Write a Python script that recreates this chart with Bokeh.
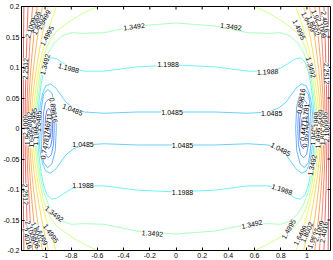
import numpy as np
from bokeh.plotting import figure
from bokeh.models import Range1d, FixedTicker, ColumnDataSource
from bokeh.embed import file_html
from bokeh.resources import INLINE
from bokeh.core.properties import value

# ---- contour levels ----
levels = [0.44711, 0.59746, 0.74781, 0.89816, 1.0485, 1.1988, 1.3492,
          1.4995, 1.6499, 1.8002, 1.9506, 2.1009, 2.2512, 2.4016, 2.5519]
level_colors = ["#0000c8", "#0028ff", "#0058ff", "#0088ff", "#00b4ff", "#10e8f0",
                "#70ff90", "#b0ff48", "#f0f000", "#ffc000", "#ff9000", "#ff6000",
                "#ff3000", "#f00000", "#b00000"]

# ---- contour lines (upper-left quarter; figure is symmetric) ----
loop_044711_x = [-0.987, -0.985, -0.979, -0.971, -0.963, -0.957, -0.955]
loop_044711_y = [0.0, 0.009, 0.016, 0.018, 0.016, 0.009, 0.0]
loop_059746_x = [-1.0, -0.997, -0.987, -0.972, -0.957, -0.946, -0.943]
loop_059746_y = [0.0, 0.017, 0.029, 0.033, 0.029, 0.017, 0.0]
loop_074781_x = [-1.016, -1.012, -0.998, -0.975, -0.952, -0.935, -0.93]
loop_074781_y = [0.0, 0.025, 0.042, 0.048, 0.043, 0.026, 0.0]
loop_089816_x = [-1.032, -1.028, -1.012, -0.98, -0.948, -0.922, -0.914]
loop_089816_y = [0.0, 0.033, 0.056, 0.064, 0.058, 0.036, 0.0]

c_10485_x = [0.0, -0.3, -0.55, -0.7, -0.78, -0.84, -0.88, -0.92, -0.96, -0.995, -1.02, -1.037, -1.045, -1.048]
c_10485_y = [0.027, 0.027, 0.025, 0.027, 0.033, 0.043, 0.055, 0.067, 0.073, 0.07, 0.057, 0.038, 0.019, 0.0]
c_11988_x = [0.0, -0.3, -0.55, -0.7, -0.8, -0.86, -0.91, -0.95, -0.985, -1.01, -1.03, -1.045, -1.055, -1.06]
c_11988_y = [0.104, 0.101, 0.094, 0.094, 0.099, 0.107, 0.114, 0.116, 0.109, 0.094, 0.072, 0.047, 0.022, 0.0]
c_13492_x = [0.0, -0.3, -0.55, -0.7, -0.8, -0.87, -0.93, -0.975, -1.01, -1.035, -1.053, -1.065, -1.072]
c_13492_y = [0.173, 0.168, 0.157, 0.156, 0.157, 0.152, 0.14, 0.124, 0.104, 0.08, 0.052, 0.025, 0.0]

w_14995_x = [-0.6, -0.7, -0.78, -0.85, -0.91, -0.955, -0.99, -1.015, -1.035, -1.053, -1.068, -1.079, -1.084]
w_14995_y = [0.2, 0.19, 0.18, 0.17, 0.16, 0.148, 0.132, 0.115, 0.095, 0.07, 0.045, 0.02, 0.0]
wall_y = [0.2, 0.175, 0.15, 0.125, 0.1, 0.075, 0.05, 0.025, 0.0]
w_16499_x = [-0.915, -0.955, -0.99, -1.021, -1.046, -1.065, -1.08, -1.091, -1.096]
w_18002_x = [-0.975, -1.001, -1.025, -1.046, -1.065, -1.082, -1.095, -1.104, -1.108]
w_19506_x = [-1.02, -1.04, -1.058, -1.074, -1.088, -1.1, -1.109, -1.116, -1.12]
w_21009_x = [-1.06, -1.074, -1.087, -1.098, -1.108, -1.116, -1.123, -1.128, -1.13]
w_22512_x = [-1.095, -1.105, -1.113, -1.12, -1.126, -1.132, -1.136, -1.139, -1.141]
w_24016_x = [-1.13, -1.134, -1.138, -1.142, -1.146, -1.148, -1.151, -1.152, -1.153]
w_25519_x = [-1.162, -1.163, -1.164, -1.165, -1.165, -1.166, -1.166, -1.167, -1.167]

# ---- inline contour labels: text, x, y, angle (deg) ----
lab_text = ["1.3492", "1.3492", "1.1988", "1.1988", "1.1988", "1.0485", "1.0485", "1.0485",
            "1.0485", "1.0485", "1.0485", "1.1988", "1.1988", "1.1988", "1.3492", "1.3492",
            "1.3492", "1.4995", "1.4995", "1.4995", "1.4995", "1.3492", "1.3492", "1.3492",
            "2.2512", "2.2512", "2.2512",
            "1.6499", "1.8002", "1.9506", "2.1009",
            "0.89816", "0.44711", "0.59746", "0.74781", "1.0485", "1.1988", "1.4995", "1.6499", "1.8002", "1.9506", "2.1009",
            "1.6499", "1.8002", "1.9506", "2.1009", "2.4016",
            "1.6499", "1.8002", "1.9506", "2.1009", "2.4016",
            "0.89816", "0.74781", "0.59746", "0.44711", "1.0485", "1.1988", "1.4995", "1.6499", "1.8002", "1.9506", "2.1009",
            "1.6499", "1.8002", "1.9506", "2.1009", "2.4016"]
lab_x = [-0.32, 0.42, -0.82, -0.06, 0.70, -0.79, -0.03, 0.73,
         -0.71, 0.05, 0.80, -0.71, 0.05, 0.81, -0.18, 0.58,
         -0.93, -0.955, 0.86, -0.985, 0.94, -1.0, 1.03, 1.04,
         -1.15, -1.15, 1.15,
         -1.01, -1.05, -1.08, -1.11,
         -0.935, -0.975, -0.99, -1.0, -1.05, -1.07, -1.085, -1.105, -1.12, -1.135, -1.15,
         -1.03, -1.06, -1.085, -1.11, -1.135,
         1.01, 1.05, 1.08, 1.11, 1.14,
         0.955, 0.99, 0.99, 0.975, 1.05, 1.07, 1.085, 1.105, 1.12, 1.135, 1.15,
         0.95, 1.0, 1.05, 1.09, 1.13]
lab_y = [0.167, 0.167, 0.099, 0.105, 0.093, 0.031, 0.027, 0.025,
         -0.026, -0.028, -0.034, -0.094, -0.105, -0.1, -0.172, -0.157,
         -0.14, -0.172, -0.165, 0.152, 0.162, 0.105, 0.1, -0.06,
         0.098, -0.108, 0.09,
         0.178, 0.17, 0.175, 0.165,
         0.03, 0.005, -0.012, -0.03, 0.012, -0.01, 0.016, -0.014, 0.01, -0.01, 0.005,
         -0.175, -0.17, -0.18, -0.168, -0.18,
         0.175, 0.168, 0.178, 0.165, 0.175,
         0.045, 0.02, -0.01, 0.0, -0.01, 0.01, -0.015, 0.014, -0.01, 0.01, -0.005,
         -0.175, -0.17, -0.18, -0.168, -0.17]
lab_angle = [7, -7, -15, 0, 2, -22, 0, 0,
             0, 0, -28, 0, 0, -18, -4, 12,
             -38, -55, 60, 62, -65, 75, -75, 78,
             88, -88, -88,
             62, 65, 68, 72,
             -82, 85, 85, 80, 88, 88, 88, 89, 89, 89, 89,
             -62, -65, -68, -72, -75,
             -62, -65, -68, -72, -80,
             82, 85, 85, 85, 88, 88, 88, 89, 89, 89, 89,
             62, 65, 68, 72, 80]

x_ticks = [-1.0, -0.8, -0.6, -0.4, -0.2, 0.0, 0.2, 0.4, 0.6, 0.8, 1.0]
x_tick_labels = ["-1", "-0.8", "-0.6", "-0.4", "-0.2", "0", "0.2", "0.4", "0.6", "0.8", "1"]
y_ticks = [-0.2, -0.15, -0.1, -0.05, 0.0, 0.05, 0.1, 0.15, 0.2]
y_tick_labels = ["-0.2", "-0.15", "-0.1", "-0.05", "0", "0.05", "0.1", "0.15", "0.2"]
x_lim = (-1.18, 1.18)
y_lim = (-0.2, 0.2)

def mirror_arc(xs, ys):
    X = list(xs) + list(xs[::-1][1:])
    Y = list(ys) + [-v for v in ys[::-1][1:]]
    return [X, [-v for v in X]], [Y, list(Y)]

def closed_curve(xs, ys):
    ux = list(xs[::-1]) + [-v for v in xs[1:]]
    uy = list(ys[::-1]) + list(ys[1:])
    X = ux + ux[::-1][1:]
    Y = uy + [-v for v in uy[::-1][1:]]
    return [X], [Y]

paths = []
for i, (lx, ly) in enumerate([(loop_044711_x, loop_044711_y), (loop_059746_x, loop_059746_y),
                              (loop_074781_x, loop_074781_y), (loop_089816_x, loop_089816_y)]):
    paths.append((i,) + mirror_arc(lx, ly))
for i, (cx, cy) in zip([4, 5, 6], [(c_10485_x, c_10485_y), (c_11988_x, c_11988_y), (c_13492_x, c_13492_y)]):
    paths.append((i,) + closed_curve(cx, cy))
paths.append((7,) + mirror_arc(w_14995_x, w_14995_y))
for i, wx in zip(range(8, 15), [w_16499_x, w_18002_x, w_19506_x, w_21009_x, w_22512_x, w_24016_x, w_25519_x]):
    paths.append((i,) + mirror_arc(wx, wall_y))

ml_xs, ml_ys, ml_c = [], [], []
for i, xs, ys in paths:
    for a, b in zip(xs, ys):
        ml_xs.append(a)
        ml_ys.append(b)
        ml_c.append(level_colors[i])

FONT = "Liberation Sans"
p = figure(width=333, height=260, x_range=Range1d(*x_lim), y_range=Range1d(*y_lim),
           output_backend="svg", toolbar_location=None,
           min_border_left=0, min_border_right=3, min_border_top=6, min_border_bottom=0)
p.grid.visible = False
p.outline_line_color = "black"
p.background_fill_color = "white"

p.xaxis.ticker = FixedTicker(ticks=x_ticks)
p.yaxis.ticker = FixedTicker(ticks=y_ticks)
p.xaxis.major_label_overrides = {t: s for t, s in zip(x_ticks, x_tick_labels)}
p.yaxis.major_label_overrides = {t: s for t, s in zip(y_ticks, y_tick_labels)}
for ax in [p.xaxis[0], p.yaxis[0]]:
    ax.major_tick_in = 3
    ax.major_tick_out = 0
    ax.minor_tick_line_color = None
    ax.axis_line_color = "black"
    ax.major_tick_line_color = "black"
    ax.major_label_text_font = FONT
    ax.major_label_text_font_size = "7px"
    ax.major_label_text_color = "black"
    ax.major_label_standoff = 2
    ax.axis_label_standoff = 0

p.multi_line(xs=ml_xs, ys=ml_ys, line_color=ml_c, line_width=0.6)

p.scatter(x=x_ticks, y=[y_lim[1]] * len(x_ticks), marker="dash", size=6, angle=90,
          angle_units="deg", line_color="black", line_width=1)
p.scatter(x=[x_lim[1]] * len(y_ticks), y=y_ticks, marker="dash", size=6,
          line_color="black", line_width=1)

src = ColumnDataSource(dict(x=lab_x, y=lab_y, text=lab_text, angle=lab_angle))
p.text(x="x", y="y", text="text", angle="angle", angle_units="deg", source=src,
       text_font=value(FONT), text_font_size="7px", text_color="black",
       text_align="center", text_baseline="middle",
       background_fill_color="white")

open("out.html", "w").write(file_html(p, INLINE))
